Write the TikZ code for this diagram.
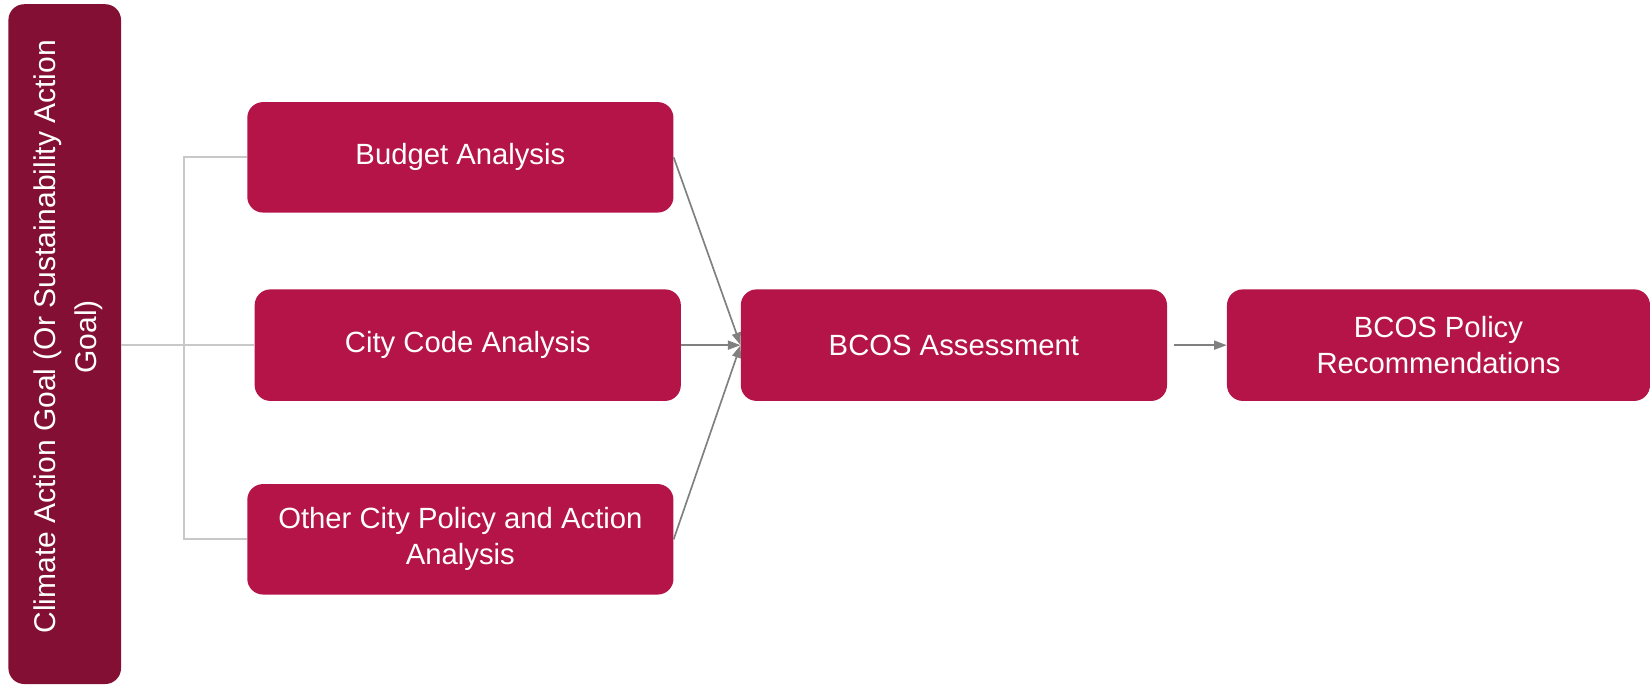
\documentclass[tikz,border=0pt]{standalone}
\usepackage{fontspec}
\setmainfont{Liberation Sans}
\usetikzlibrary{arrows.meta}
\definecolor{boxred}{RGB}{181,20,73}
\definecolor{goalred}{RGB}{131,15,52}
\definecolor{lightline}{RGB}{200,200,200}
\definecolor{darkline}{RGB}{128,128,128}
\tikzset{
  stepbox/.style={draw=none, fill=boxred, rounded corners=15pt, text=white,
    minimum width=405pt, minimum height=106pt, align=center, inner sep=0pt,
    font=\fontsize{27.8}{34}\selectfont},
  goalbox/.style={draw=none, fill=goalred, rounded corners=15pt,
    minimum width=107pt, minimum height=646pt, inner sep=0pt},
  goaltext/.style={rotate=90, text=white, align=center, inner sep=0pt,
    font=\fontsize{28.5}{39}\selectfont},
  bus/.style={draw=lightline, line width=1.6pt},
  flow/.style={draw=darkline, line width=1.6pt, -{Triangle[length=12pt,width=8.5pt]}}
}
\begin{document}
\begin{tikzpicture}[x=1pt,y=-1pt]
\useasboundingbox (0,0) rectangle (1568,651);
\node[goalbox] (goal) at (61.5,327) {};
\node[goaltext] (goaltxt) at ([xshift=3pt,yshift=7pt]goal.center) {Climate Action Goal (Or Sustainability Action\\Goal)};
\node[stepbox, minimum height=105pt] (budget) at (437.5,149.5) {Budget Analysis};
\node[stepbox] (code) at (444.5,328) {City Code Analysis};
\node[stepbox, minimum height=105pt] (other) at (437.5,512.5) {Other City Policy and Action\\Analysis};
\node[stepbox] (assess) at (906.5,328) {BCOS Assessment};
\node[stepbox, minimum width=402pt] (policy) at (1367,328) {BCOS Policy\\Recommendations};
\coordinate (j) at (175,328);
\draw[bus] (goal.east |- code.west) -- (code.west);
\draw[bus] (budget.west) -- (budget.west -| j) -- (other.west -| j) -- (other.west);
\draw[flow] (budget.east) -- (assess.west);
\draw[flow] (code.east) -- (assess.west);
\draw[flow] (other.east) -- (assess.west);
\draw[flow] ([xshift=6pt]assess.east) -- (policy.west);
\end{tikzpicture}
\end{document}
